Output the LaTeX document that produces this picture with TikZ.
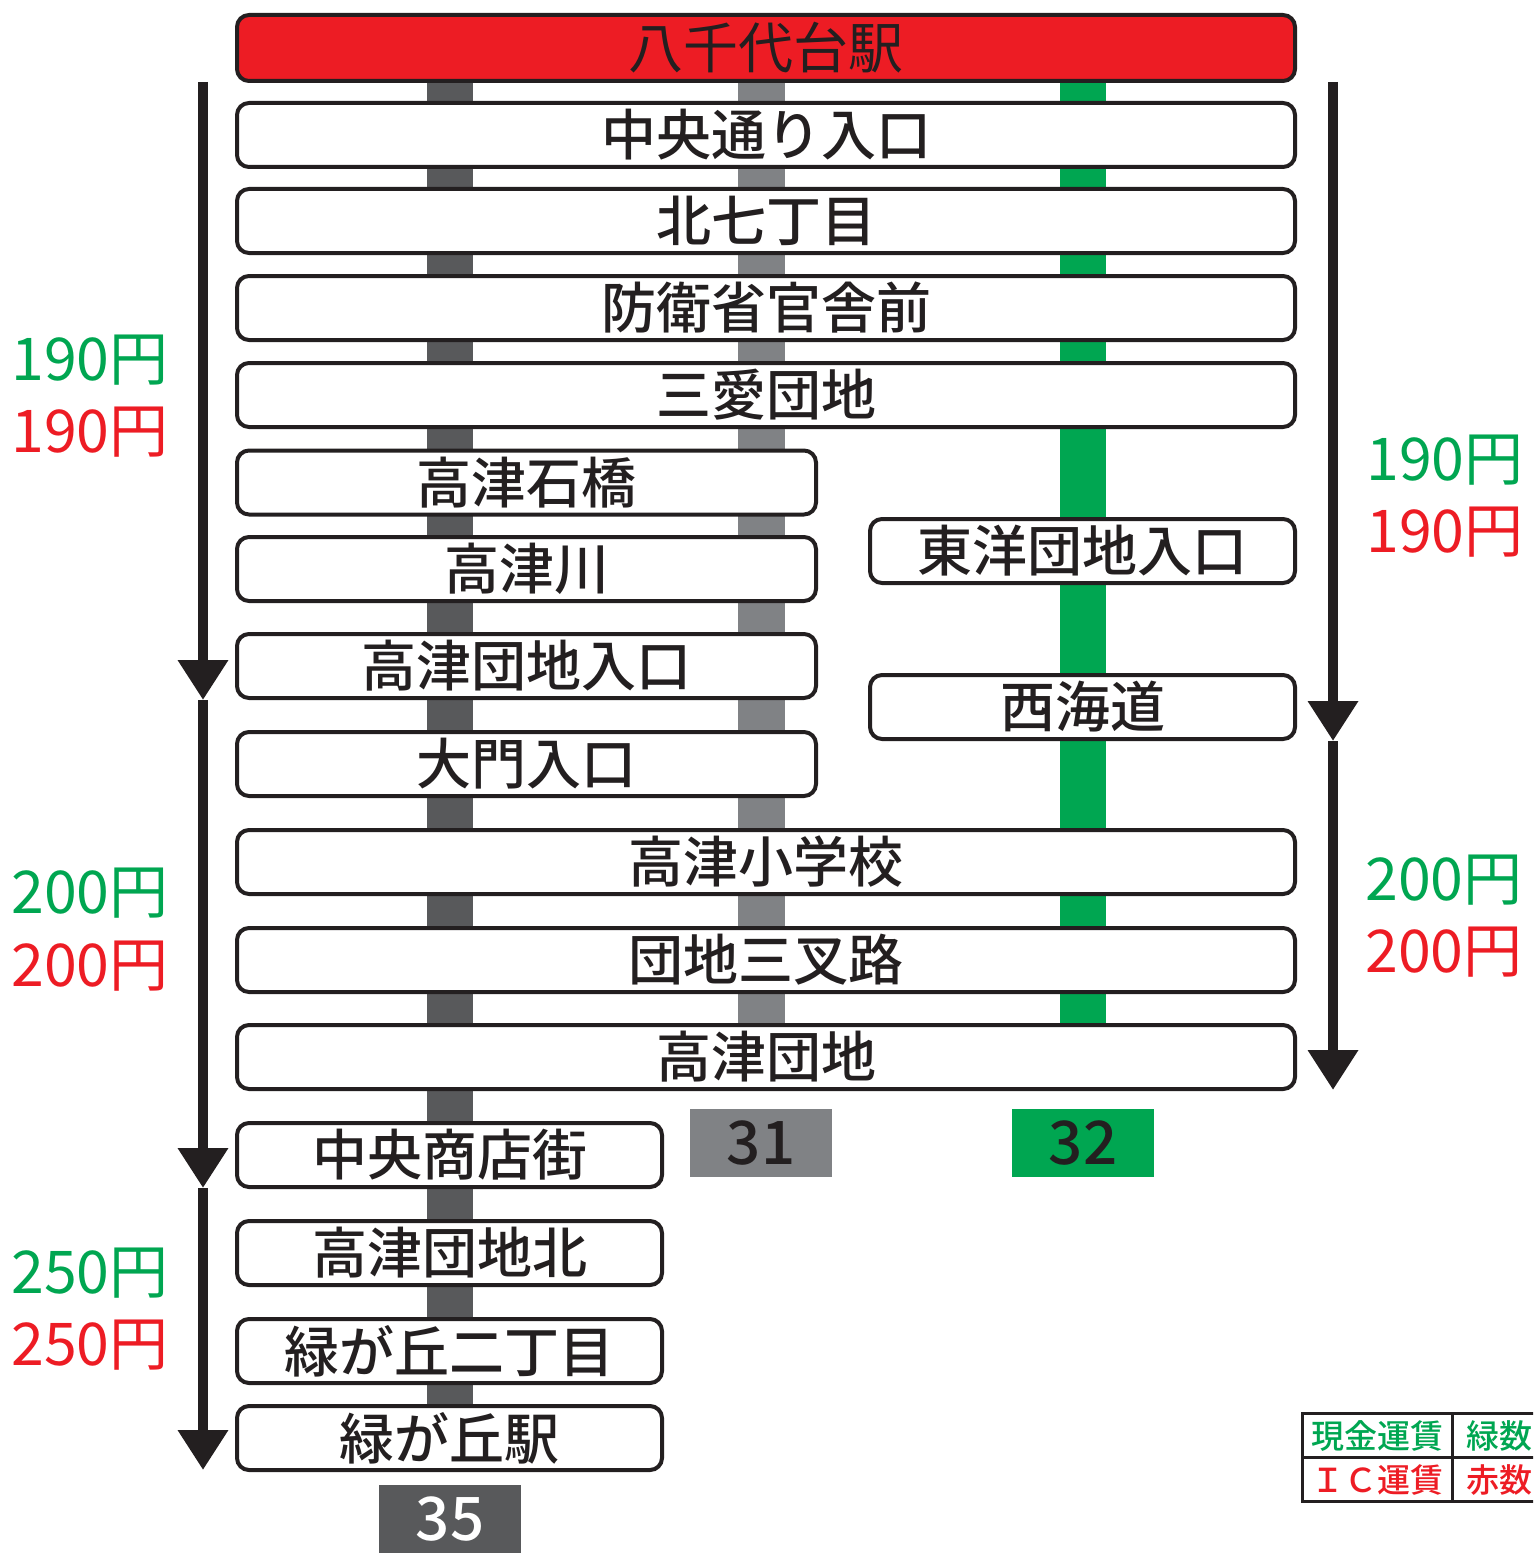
\documentclass[tikz,border=0pt]{standalone}
\usepackage{fontspec}
\setmainfont{Noto Sans CJK JP}
\newfontfamily\stopfont{Noto Sans CJK JP Medium}
\usetikzlibrary{arrows.meta}
\definecolor{busred}{HTML}{ED1C24}
\definecolor{busgreen}{HTML}{00A651}
\definecolor{busdark}{HTML}{58595B}
\definecolor{busgray}{HTML}{808285}
\definecolor{ink}{HTML}{231F20}
\tikzset{>={Triangle[width=48pt,length=40pt]}}
\tikzset{
  stop/.style={draw=ink, line width=4pt, rounded corners=12pt, fill=white,
    minimum height=64pt, inner sep=0pt, text=ink,
    font=\fontsize{55}{55}\stopfont},
  wide/.style={stop, minimum width=1058pt},
  half/.style={stop, minimum width=579pt},
  short/.style={stop, minimum width=425pt},
  fare/.style={inner sep=0pt, font=\fontsize{59}{59}\selectfont},
  routeno/.style={minimum width=142pt, minimum height=68pt, inner sep=0pt,
    font=\fontsize{60}{60}\stopfont},
  farearrow/.style={->, draw=ink, line width=10pt},
  legend/.style={inner sep=0pt, font=\fontsize{33}{33}\stopfont},
}

\begin{document}
\begin{tikzpicture}[x=1pt, y=-1pt]
		\useasboundingbox (0,0) rectangle (1533,1557);

		% route bars
		\fill[busdark] (427,82) rectangle (473,1410);
		\fill[busgray] (738,82) rectangle (785,1091);
		\fill[busgreen] (1060,82) rectangle (1106,1030);

		% stops
		\node[wide, fill=busred, minimum height=66pt, font=\fontsize{55}{55}\selectfont] (yachiyodai) at (766,48) {八千代台駅};
		\node[wide] (chuodori) at (766,135) {中央通り入口};
		\node[wide] (kita7) at (766,221) {北七丁目};
		\node[wide] (boei) at (766,308) {防衛省官舎前};
		\node[wide] (sanai) at (766,395) {三愛団地};
		\node[half] (ishibashi) at (526.5,482.5) {高津石橋};
		\node[half] (takatsugawa) at (526.5,569) {高津川};
		\node[half] (danchiiri) at (526.5,666) {高津団地入口};
		\node[half] (daimon) at (526.5,764) {大門入口};
		\node[short] (toyo) at (1082.5,551) {東洋団地入口};
		\node[short] (saikaido) at (1082.5,707) {西海道};
		\node[wide] (shogakko) at (766,862) {高津小学校};
		\node[wide] (sansaro) at (766,960) {団地三叉路};
		\node[wide] (danchi) at (766,1057) {高津団地};
		\node[short] (shotengai) at (449.5,1155) {中央商店街};
		\node[short] (danchikita) at (449.5,1253) {高津団地北};
		\node[short] (midori2) at (449.5,1351) {緑が丘二丁目};
		\node[short] (midorieki) at (449.5,1438) {緑が丘駅};

		% route numbers
		\node[routeno, fill=busgray, text=ink] (r31) at (761,1143) {31};
		\node[routeno, fill=busgreen, text=ink] (r32) at (1083,1143) {32};
		\node[routeno, fill=busdark, text=white] (r35) at (450,1519) {35};

		% fare sections
		\coordinate (la) at (203,82);
		\coordinate (lb) at (203,700);
		\coordinate (lc) at (203,1188);
		\coordinate (ld) at (203,1470);
		\draw[farearrow] (la) -- (lb);
		\draw[farearrow] (lb) -- (lc);
		\draw[farearrow] (lc) -- (ld);
		\coordinate (ra) at (1333,82);
		\coordinate (rb) at (1333,741);
		\coordinate (rc) at (1333,1090);
		\draw[farearrow] (ra) -- (rb);
		\draw[farearrow] (rb) -- (rc);

		\node[fare, text=busgreen] (l190g) at (90,360) {190円};
		\node[fare, text=busred] (l190r) at (90,432) {190円};
		\node[fare, text=busgreen] (l200g) at (90,893) {200円};
		\node[fare, text=busred] (l200r) at (90,966) {200円};
		\node[fare, text=busgreen] (l250g) at (90,1273) {250円};
		\node[fare, text=busred] (l250r) at (90,1345) {250円};
		\node[fare, text=busgreen] (r190g) at (1445,460) {190円};
		\node[fare, text=busred] (r190r) at (1445,532) {190円};
		\node[fare, text=busgreen] (r200g) at (1444,880) {200円};
		\node[fare, text=busred] (r200r) at (1444,952) {200円};

		% legend
		\begin{scope}
			\clip (1290,1400) rectangle (1533,1557);
			\draw[ink, line width=3pt] (1302,1413) rectangle (1620,1501);
			\draw[ink, line width=3pt] (1302,1457) -- (1620,1457);
			\draw[ink, line width=3pt] (1452,1413) -- (1452,1501);
			\node[legend, text=busgreen] (cash) at (1377,1436) {現金運賃};
			\node[legend, text=busred] (ic) at (1377,1480) {ＩＣ運賃};
			\node[legend, text=busgreen, anchor=west] (greennum) at (1466,1436) {緑数字};
			\node[legend, text=busred, anchor=west] (rednum) at (1466,1480) {赤数字};
		\end{scope}
	\end{tikzpicture}
\end{document}
